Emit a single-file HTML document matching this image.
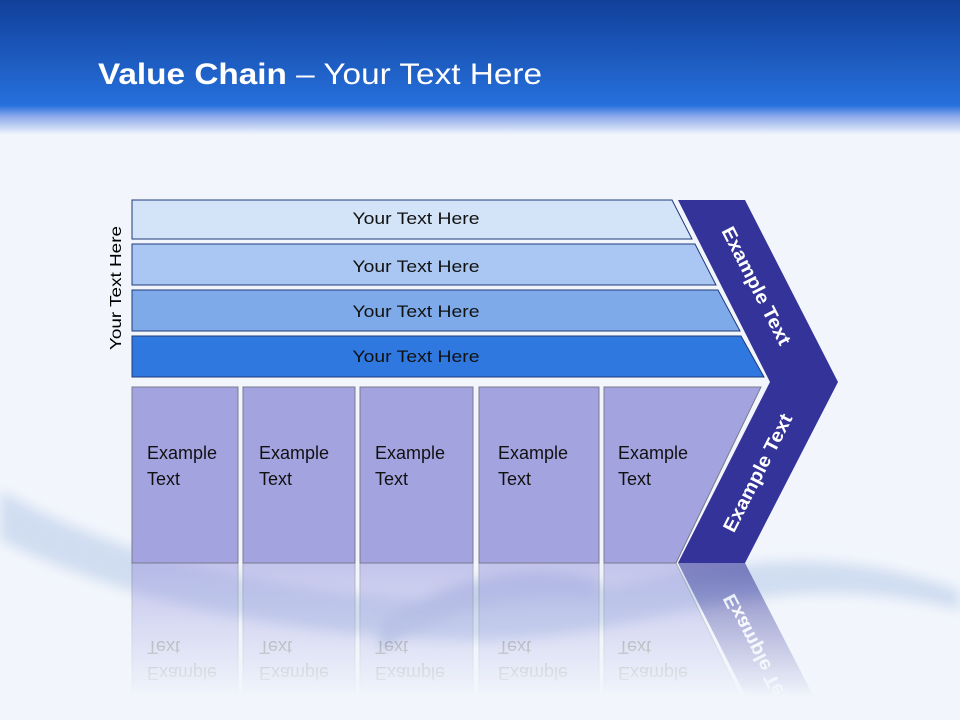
<!DOCTYPE html>
<html><head><meta charset="utf-8"><style>
html,body{margin:0;padding:0;}
body{width:960px;height:720px;overflow:hidden;font-family:"Liberation Sans",sans-serif;}
svg{display:block;overflow:hidden;}
</style></head><body>
<svg width="960" height="720" viewBox="0 0 960 720" xmlns="http://www.w3.org/2000/svg" font-family="Liberation Sans, sans-serif">
<defs>
<linearGradient id="hdr" x1="0" y1="0" x2="0" y2="1">
<stop offset="0" stop-color="#11409a"/>
<stop offset="0.78" stop-color="#2670dc"/>
<stop offset="0.86" stop-color="#8aa8ea"/>
<stop offset="1" stop-color="#f2f6fc"/>
</linearGradient>
<linearGradient id="fade" x1="0" y1="0" x2="0" y2="1">
<stop offset="0" stop-color="#fff" stop-opacity="0.6"/>
<stop offset="1" stop-color="#fff" stop-opacity="0"/>
</linearGradient>
<mask id="rm" maskUnits="userSpaceOnUse" x="0" y="563" width="960" height="157">
<rect x="0" y="563" width="960" height="135" fill="url(#fade)"/>
</mask>
<filter id="bl"><feGaussianBlur stdDeviation="6"/></filter>
</defs>
<rect width="960" height="720" fill="#f2f6fc"/>
<rect width="960" height="135" fill="url(#hdr)"/>
<g filter="url(#bl)" opacity="0.4">
<path d="M0,490 C120,560 300,600 480,600 C650,600 760,520 960,590 L960,610 C760,560 650,640 480,640 C300,640 120,600 0,540 Z" fill="#9fb8e0"/>
<path d="M380,620 C450,580 520,560 600,580 L600,600 C520,590 450,610 380,650 Z" fill="#7f9ad0"/>
</g>
<text x="98" y="84" font-size="30" fill="#fff" textLength="444" lengthAdjust="spacingAndGlyphs"><tspan font-weight="bold">Value Chain</tspan> – Your Text Here</text>
<text transform="translate(121,288) rotate(-90)" font-size="16" fill="#000" text-anchor="middle" textLength="124" lengthAdjust="spacingAndGlyphs">Your Text Here</text>
<g id="main">
<polygon points="132,200 672,200 692,239 132,239" fill="#d3e3f8" stroke="#1f3a7a" stroke-width="1"/>
<polygon points="132,244 695,244 716,285 132,285" fill="#a9c7f2" stroke="#1f3a7a" stroke-width="1"/>
<polygon points="132,290 718,290 740,331 132,331" fill="#7eaaea" stroke="#1f3a7a" stroke-width="1"/>
<polygon points="132,336 741,336 764,377 132,377" fill="#2f78e0" stroke="#1f3a7a" stroke-width="1"/>
<g font-size="17" fill="#111" text-anchor="middle">
<text x="416" y="224" textLength="127" lengthAdjust="spacingAndGlyphs">Your Text Here</text>
<text x="416" y="272" textLength="127" lengthAdjust="spacingAndGlyphs">Your Text Here</text>
<text x="416" y="317" textLength="127" lengthAdjust="spacingAndGlyphs">Your Text Here</text>
<text x="416" y="362" textLength="127" lengthAdjust="spacingAndGlyphs">Your Text Here</text>
</g>
<g fill="#a3a3e0" stroke="#7a7a8e" stroke-width="1">
<rect x="132" y="387" width="106" height="176"/>
<rect x="243" y="387" width="112" height="176"/>
<rect x="360" y="387" width="113" height="176"/>
<rect x="479" y="387" width="120" height="176"/>
<polygon points="604,387 761,387 676,563 604,563"/>
</g>
<g font-size="18" fill="#111">
<text x="147" y="459">Example</text><text x="147" y="485">Text</text>
<text x="259" y="459">Example</text><text x="259" y="485">Text</text>
<text x="375" y="459">Example</text><text x="375" y="485">Text</text>
<text x="498" y="459">Example</text><text x="498" y="485">Text</text>
<text x="618" y="459">Example</text><text x="618" y="485">Text</text>
</g>
<polygon points="678,200 745,200 838,382 745,563 678,563 770,382" fill="#333399"/>
<g font-size="19" font-weight="bold" fill="#fff" text-anchor="middle">
<text transform="translate(756,286) rotate(63)" dy="6" textLength="130" lengthAdjust="spacingAndGlyphs">Example Text</text>
<text transform="translate(758,473) rotate(-63)" dy="6" textLength="130" lengthAdjust="spacingAndGlyphs">Example Text</text>
</g>
</g>
<g mask="url(#rm)">
<use href="#main" transform="translate(0,1126) scale(1,-1)"/>
</g>
</svg>
</body></html>
